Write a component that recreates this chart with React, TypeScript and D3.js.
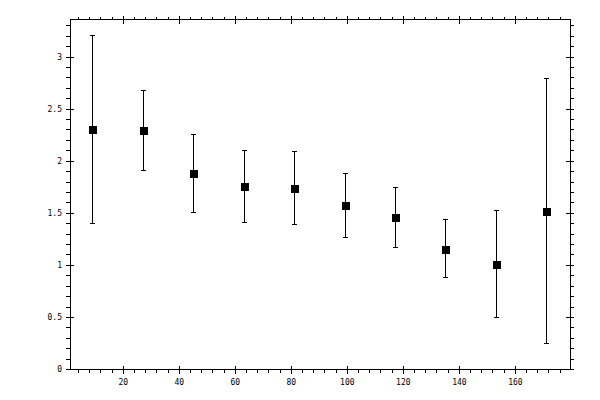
import React, { useEffect, useRef } from 'react';
import * as d3 from 'd3';

// bin centres and the mean with its interval for each bin
const binCentres = [9, 27, 45, 63, 81, 99, 117, 135, 153, 171];
const means = [2.31, 2.3, 1.89, 1.76, 1.74, 1.58, 1.46, 1.16, 1.01, 1.52];
const upperBounds = [3.21, 2.68, 2.26, 2.1, 2.09, 1.88, 1.75, 1.44, 1.53, 2.79];
const lowerBounds = [1.4, 1.91, 1.51, 1.41, 1.39, 1.27, 1.17, 0.88, 0.5, 0.25];

const xMajorTicks = [20, 40, 60, 80, 100, 120, 140, 160];
const yMajorTicks = [0, 0.5, 1, 1.5, 2, 2.5, 3];

const App: React.FC = () => {
  const svgRef = useRef<SVGSVGElement | null>(null);
  const width = 600;
  const height = 400;

  useEffect(() => {
    if (!svgRef.current) return;
    const svg = d3.select(svgRef.current);
    svg.selectAll('*').remove();

    const left = 70, right = 570, top = 19.5, bottom = 369.5;

    const x = d3.scaleLinear().domain([1, 179.5]).range([left, right]);
    const y = d3.scaleLinear().domain([0, 3.36]).range([bottom, top]);

    const g = svg.append('g').attr('shape-rendering', 'crispEdges');

    // frame
    g.append('rect')
      .attr('x', left)
      .attr('y', top)
      .attr('width', right - left)
      .attr('height', bottom - top)
      .attr('fill', 'none')
      .attr('stroke', '#000')
      .attr('stroke-width', 1);

    const xMinor = d3.range(4, 180, 4).filter(v => v % 20 !== 0 && v <= 179.5);
    const yMinor = d3.range(1, 34).map(v => v / 10).filter(v => Math.round(v * 10) % 5 !== 0);

    const tick = (x1: number, y1: number, x2: number, y2: number) =>
      g.append('line')
        .attr('x1', x1).attr('y1', y1).attr('x2', x2).attr('y2', y2)
        .attr('stroke', '#000').attr('stroke-width', 1);

    // minor ticks point outward, major ticks cross the frame
    xMinor.forEach(v => {
      tick(x(v), bottom, x(v), bottom + 3);
      tick(x(v), top, x(v), top - 3);
    });
    xMajorTicks.forEach(v => {
      tick(x(v), bottom - 4, x(v), bottom + 4);
      tick(x(v), top - 4, x(v), top + 4);
    });
    yMinor.forEach(v => {
      tick(left - 4, y(v), left, y(v));
      tick(right, y(v), right + 4, y(v));
    });
    yMajorTicks.forEach(v => {
      tick(left - 4, y(v), left + 4, y(v));
      tick(right - 4, y(v), right + 4, y(v));
    });

    const labelFont = '"DejaVu Sans Mono", monospace';

    svg.append('g')
      .selectAll('text')
      .data(xMajorTicks)
      .enter()
      .append('text')
      .attr('x', d => x(d))
      .attr('y', bottom + 15)
      .attr('text-anchor', 'middle')
      .style('font-family', labelFont)
      .style('font-size', '8px')
      .attr('fill', '#000')
      .text(d => d);

    svg.append('g')
      .selectAll('text')
      .data(yMajorTicks)
      .enter()
      .append('text')
      .attr('x', left - 8)
      .attr('y', d => y(d))
      .attr('dy', '0.35em')
      .attr('text-anchor', 'end')
      .style('font-family', labelFont)
      .style('font-size', '8px')
      .attr('fill', '#000')
      .text(d => d);

    // error bars
    const bars = g.selectAll('g.bar')
      .data(binCentres.map((c, i) => ({ c, m: means[i], hi: upperBounds[i], lo: lowerBounds[i] })))
      .enter()
      .append('g')
      .attr('class', 'bar');

    bars.append('line')
      .attr('x1', d => Math.round(x(d.c)) + 0.5)
      .attr('x2', d => Math.round(x(d.c)) + 0.5)
      .attr('y1', d => y(d.hi))
      .attr('y2', d => y(d.lo))
      .attr('stroke', '#000');

    [(d: any) => y(d.hi), (d: any) => y(d.lo)].forEach(acc => {
      bars.append('line')
        .attr('x1', d => Math.round(x(d.c)) - 2)
        .attr('x2', d => Math.round(x(d.c)) + 3)
        .attr('y1', acc)
        .attr('y2', acc)
        .attr('stroke', '#000');
    });

    bars.append('rect')
      .attr('x', d => Math.round(x(d.c)) - 3.5)
      .attr('y', d => Math.round(y(d.m)) - 3.5)
      .attr('width', 8)
      .attr('height', 8)
      .attr('fill', '#000');
  }, []);

  return (
    <svg
      ref={svgRef}
      width={width}
      height={height}
      style={{ position: 'absolute', left: 0, top: 0, background: '#fff' }}
    ></svg>
  );
};

export default App;
